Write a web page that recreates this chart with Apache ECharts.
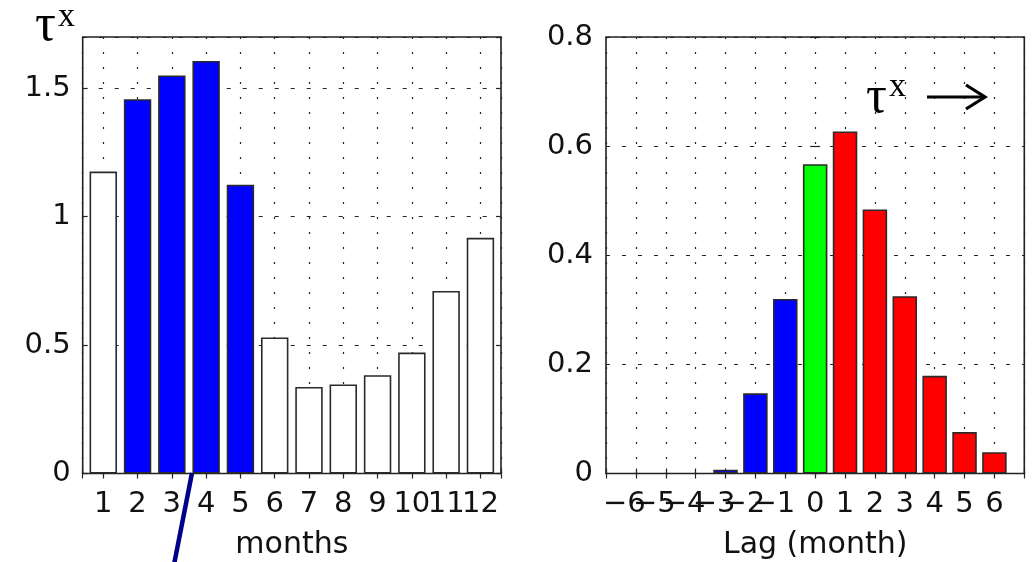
<!DOCTYPE html>
<html>
<head>
<meta charset="utf-8">
<script src="https://cdn.jsdelivr.net/npm/echarts@6/dist/echarts.min.js"></script>
<style>
html,body{margin:0;padding:0;background:#fff;}
#chart{width:1032px;height:562px;}
</style>
</head>
<body>
<div id="chart"></div>
<script>
// ---- data ----
const months = [1, 2, 3, 4, 5, 6, 7, 8, 9, 10, 11, 12];
const monthValues = [1.176, 1.458, 1.550, 1.607, 1.125, 0.530, 0.337, 0.347, 0.383, 0.471, 0.711, 0.918];
const highlightMonths = [2, 3, 4, 5];
const lags = [-6, -5, -4, -3, -2, -1, 0, 1, 2, 3, 4, 5, 6];
const lagValues = [0, 0, 0, 0.007, 0.147, 0.320, 0.567, 0.627, 0.484, 0.325, 0.179, 0.076, 0.039];
const leftAxisTitle = 'months';
const rightAxisTitle = 'Lag (month)';
const varSymbol = 'τ';
const varSup = 'x';

// ---- styles ----
const FONT = 'DejaVu Sans';
const TXT = '#111';
const EDGE = '#222';
const labelStyle = { fontSize: 29, fontFamily: FONT, color: TXT };
const vDots = { color: '#222', width: 1.2, type: [2, 13] };
const hDash = { color: '#222', width: 1.2, type: [4, 12] };
const tickIn = { show: true, inside: true, length: 5, lineStyle: { color: EDGE, width: 1.2 } };

const chart = echarts.init(document.getElementById('chart'), null, { renderer: 'canvas' });

function isInt(v) { return Math.abs(v - Math.round(v)) < 1e-6; }

const leftX = {
  type: 'value', gridIndex: 0, min: 0.4, max: 12.6, splitNumber: 12, minInterval: 1, maxInterval: 1
};
const rightX = { type: 'value', gridIndex: 1, min: -7, max: 7, interval: 1 };

const option = {
  animation: false,
  backgroundColor: '#fff',
  grid: [
    { left: 82.7, top: 37, right: 531, bottom: 88.5, show: true, borderColor: EDGE, borderWidth: 1.6, backgroundColor: '#fff', outerBoundsMode: 'none' },
    { left: 606, top: 37, right: 7.7, bottom: 88.5, show: true, borderColor: EDGE, borderWidth: 1.6, backgroundColor: '#fff', outerBoundsMode: 'none' }
  ],
  xAxis: [
    Object.assign({}, leftX, {
      position: 'bottom',
      axisLine: { show: false },
      axisTick: tickIn,
      axisLabel: Object.assign({}, labelStyle, {
        margin: 16,
        formatter: v => (isInt(v) && v >= 1 && v <= 12) ? String(Math.round(v)) : ''
      }),
      splitLine: { show: true, lineStyle: vDots },
      name: leftAxisTitle, nameLocation: 'middle', nameGap: 57,
      nameTextStyle: { fontSize: 30, fontFamily: FONT, color: TXT }
    }),
    Object.assign({}, leftX, {
      position: 'top',
      axisLine: { show: false }, axisTick: tickIn,
      axisLabel: { show: false }, splitLine: { show: false }
    }),
    Object.assign({}, rightX, {
      position: 'bottom',
      axisLine: { show: false },
      axisTick: tickIn,
      axisLabel: Object.assign({}, labelStyle, {
        margin: 16,
        formatter: v => {
          const r = Math.round(v);
          if (Math.abs(r) >= 7) return '';
          return r < 0 ? '{n|\u2212' + (-r) + '}' : String(r);
        },
        rich: { n: { fontSize: 29, fontFamily: FONT, color: TXT, padding: [0, 23, 0, 0] } }
      }),
      splitLine: { show: true, lineStyle: vDots },
      name: rightAxisTitle, nameLocation: 'middle', nameGap: 57,
      nameTextStyle: { fontSize: 30, fontFamily: FONT, color: TXT }
    }),
    Object.assign({}, rightX, {
      position: 'top',
      axisLine: { show: false }, axisTick: tickIn,
      axisLabel: { show: false }, splitLine: { show: false }
    })
  ],
  yAxis: [
    {
      type: 'value', gridIndex: 0, min: 0, max: 1.7, interval: 0.5, position: 'left',
      axisLine: { show: false }, axisTick: tickIn,
      axisLabel: Object.assign({}, labelStyle, { margin: 12, showMaxLabel: false }),
      splitLine: { show: true, lineStyle: hDash }
    },
    {
      type: 'value', gridIndex: 0, min: 0, max: 1.7, interval: 0.5, position: 'right',
      axisLine: { show: false }, axisTick: tickIn,
      axisLabel: { show: false }, splitLine: { show: false }
    },
    {
      type: 'value', gridIndex: 1, min: 0, max: 0.8, interval: 0.2, position: 'left',
      axisLine: { show: false }, axisTick: tickIn,
      axisLabel: Object.assign({}, labelStyle, { margin: 13 }),
      splitLine: { show: true, lineStyle: hDash }
    },
    {
      type: 'value', gridIndex: 1, min: 0, max: 0.8, interval: 0.2, position: 'right',
      axisLine: { show: false }, axisTick: tickIn,
      axisLabel: { show: false }, splitLine: { show: false }
    }
  ],
  series: [
    {
      type: 'bar', xAxisIndex: 0, yAxisIndex: 0, barWidth: '80%',
      itemStyle: { borderColor: '#2a2a2a', borderWidth: 1.6 },
      data: months.map((m, i) => ({
        value: [m, monthValues[i]],
        itemStyle: { color: highlightMonths.includes(m) ? '#0000ff' : '#ffffff' }
      }))
    },
    {
      type: 'bar', xAxisIndex: 2, yAxisIndex: 2, barWidth: '82%',
      itemStyle: { borderColor: '#2a2a2a', borderWidth: 1.6 },
      data: lags.map((l, i) => ({
        value: [l, lagValues[i]],
        itemStyle: {
          color: l < 0 ? '#0000ff' : (l === 0 ? '#00ff00' : '#ff0000'),
          borderWidth: lagValues[i] === 0 ? 0 : 1.6
        }
      }))
    }
  ],
  graphic: [
    { type: 'text', left: 35, top: 0, z: 100, style: { text: varSymbol, font: '52px "Liberation Serif"', fill: '#000' } },
    { type: 'text', left: 58, top: 0, z: 100, style: { text: varSup, font: '34px "Liberation Serif"', fill: '#000' } },
    { type: 'text', left: 866, top: 72, z: 100, style: { text: varSymbol, font: '52px "Liberation Serif"', fill: '#000' } },
    { type: 'text', left: 889, top: 70, z: 100, style: { text: varSup, font: '34px "Liberation Serif"', fill: '#000' } },
    { type: 'line', z: 100, shape: { x1: 927, y1: 97, x2: 982, y2: 97 }, style: { stroke: '#000', lineWidth: 3 } },
    { type: 'polyline', z: 100, shape: { points: [[966, 85], [985, 97], [966, 109]] }, style: { stroke: '#000', lineWidth: 3.2, fill: null } },
    { type: 'line', z: 100, shape: { x1: 192, y1: 473, x2: 171, y2: 580 }, style: { stroke: '#00008c', lineWidth: 4.5 } }
  ]
};
chart.setOption(option);
</script>
</body>
</html>
